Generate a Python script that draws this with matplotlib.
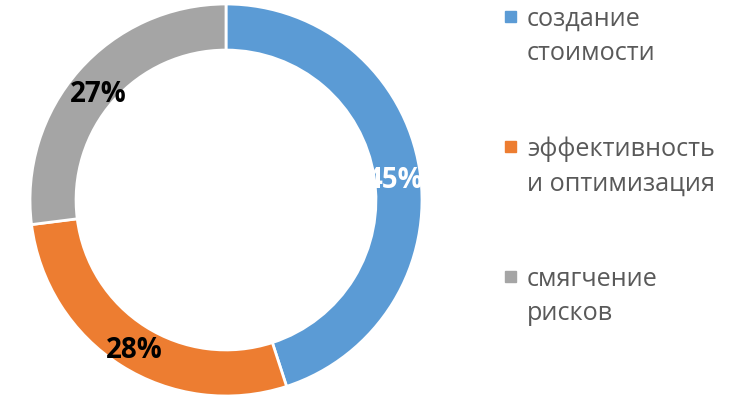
import matplotlib.pyplot as plt
from matplotlib.patches import Rectangle

# Данные
categories = ['создание\nстоимости', 'эффективность\nи оптимизация', 'смягчение\nрисков']
shares = [45, 28, 27]
colors = ['#5B9BD5', '#ED7D31', '#A5A5A5']
pct_colors = ['white', 'black', 'black']

plt.rcParams['font.family'] = ['Open Sans', 'DejaVu Sans']

fig = plt.figure(figsize=(7.3, 4.0), dpi=100)
ax = fig.add_axes([30 / 730, 4 / 400, 392 / 730, 392 / 400])

wedges, texts, autotexts = ax.pie(
    shares, colors=colors, startangle=90, counterclock=False, radius=1.0,
    autopct=lambda p: f'{p:.0f}%', pctdistance=0.87,
    wedgeprops=dict(width=0.235, edgecolor='white', linewidth=2),
    textprops=dict(fontsize=20, fontweight='bold'))

# подписи процентов чуть ниже центра кольца
for t, c in zip(autotexts, pct_colors):
    t.set_color(c)
    x, y = t.get_position()
    t.set_position((x, y - 0.035))

ax.set_xlim(-1, 1)
ax.set_ylim(-1, 1)
ax.set_aspect('equal')
ax.axis('off')

# Легенда справа
for i, (label, color) in enumerate(zip(categories, colors)):
    y = 1 - (17 + 130 * i) / 400
    fig.add_artist(Rectangle((505 / 730, y - 5 / 400), 11 / 730, 11 / 400,
                             transform=fig.transFigure, color=color))
    fig.text(527 / 730, y + 10 / 400, label, fontsize=18.2, color='#595959',
             va='top', ha='left', linespacing=1.5,
             transform=fig.transFigure)

fig.savefig('out.png', dpi=100)
